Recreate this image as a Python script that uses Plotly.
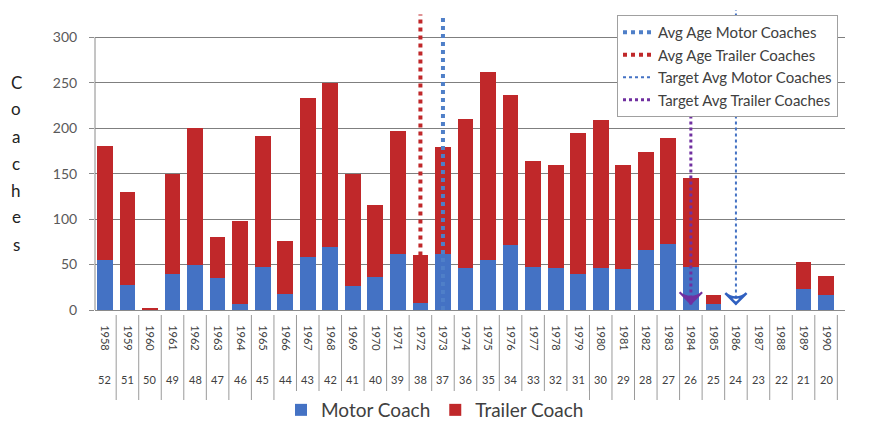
import plotly.graph_objects as go

# Fleet by year of build
years = list(range(1958, 1991))
ages = [2010 - y for y in years]
motor = [55, 27, 0, 40, 49, 35, 7, 47, 18, 58, 69, 26, 36, 62, 8, 62, 46,
         55, 71, 47, 46, 40, 46, 45, 66, 73, 47, 7, 0, 0, 0, 23, 16]
total = [180, 130, 2, 150, 200, 80, 98, 191, 76, 233, 250, 150, 115, 197, 60, 179, 210,
         262, 236, 164, 160, 195, 209, 159, 174, 189, 145, 17, 0, 0, 0, 53, 37]
trailer = [t - m for t, m in zip(total, motor)]

# Average / target ages shown as year-of-build markers
avg_motor_year = 1973
avg_trailer_year = 1972
target_motor_year = 1986
target_trailer_year = 1984
line_top = 325

BLUE = "#4472C4"
RED = "#C0282A"
FONT = "Lato, 'Open Sans', sans-serif"

# plot area geometry (pixels) used for paper-coordinate placement
L, R, TOP, BOT = 95, 845, 10, 310
W, H = R - L, BOT - TOP


def px_y(py):
    return (BOT - py) / H


def px_x(px):
    return (px - L) / W


fig = go.Figure()

fig.add_trace(go.Bar(x=years, y=motor, name="Motor Coach", marker_color=BLUE,
                     marker_line_width=0, legend="legend2"))
fig.add_trace(go.Bar(x=years, y=trailer, name="Trailer Coach", marker_color=RED,
                     marker_line_width=0, legend="legend2"))

tr_idx = years.index(avg_trailer_year)
fig.add_trace(go.Scatter(x=[avg_motor_year, avg_motor_year], y=[0, line_top], mode="lines",
                         line=dict(color="#4F7FC8", width=4, dash="dot"),
                         name="Avg Age Motor Coaches"))
fig.add_trace(go.Scatter(x=[avg_trailer_year, avg_trailer_year], y=[total[tr_idx], line_top],
                         mode="lines", line=dict(color="#C0282A", width=4, dash="dot"),
                         name="Avg Age Trailer Coaches"))
fig.add_trace(go.Scatter(x=[target_motor_year, target_motor_year], y=[6, 332],
                         mode="lines", line=dict(color="#4472C4", width=2, dash="dot"),
                         name="Target Avg Motor Coaches"))
fig.add_trace(go.Scatter(x=[target_trailer_year, target_trailer_year], y=[6, 312],
                         mode="lines", line=dict(color="#7030A0", width=3, dash="dot"),
                         name="Target Avg Trailer Coaches"))
# arrow heads at the foot of the target lines
fig.add_trace(go.Scatter(x=[target_motor_year], y=[7], mode="markers", showlegend=False,
                         marker=dict(symbol="arrow-wide-open", angle=180, size=15,
                                     color="#3060C0", line=dict(width=2.5, color="#3060C0")),
                         cliponaxis=False))
fig.add_trace(go.Scatter(x=[target_trailer_year], y=[7], mode="markers", showlegend=False,
                         marker=dict(symbol="arrow-wide", angle=180, size=16,
                                     color="#7030A0", line=dict(width=2, color="#7030A0")),
                         cliponaxis=False))

# Table-style category axis: separators and age row
shapes = [dict(type="line", xref="paper", yref="y", x0=0, x1=0, y0=0, y1=300,
               line=dict(color="#8a8a8a", width=1))]
for y in years + [years[-1] + 1]:
    shapes.append(dict(type="line", xref="x", yref="paper", x0=y - 0.5, x1=y - 0.5,
                       y0=px_y(315), y1=px_y(400), line=dict(color="#9a9a9a", width=1)))
annotations = []
for y, a in zip(years, ages):
    annotations.append(dict(x=y, y=px_y(388), xref="x", yref="paper", text=str(a),
                            showarrow=False, font=dict(size=11, color="#404040", family=FONT)))

# Vertical axis title, one letter per row
for i, ch in enumerate("Coaches"):
    annotations.append(dict(x=px_x(16), y=px_y(82 + i * 27), xref="paper", yref="paper",
                            text=ch, showarrow=False, xanchor="center", yanchor="middle",
                            font=dict(size=17, color="#222222", family=FONT)))

fig.update_layout(
    width=870, height=424,
    margin=dict(l=L, r=870 - R, t=TOP, b=424 - BOT, autoexpand=False),
    paper_bgcolor="white", plot_bgcolor="white",
    barmode="stack", bargap=0.3,
    font=dict(family=FONT, color="#404040"),
    shapes=shapes, annotations=annotations,
    legend=dict(x=px_x(617), y=px_y(15), xanchor="left", yanchor="top",
                bgcolor="white", bordercolor="#a0a0a0", borderwidth=1,
                font=dict(size=15, color="#404040"), itemwidth=30,
                tracegroupgap=0, traceorder="normal"),
    legend2=dict(orientation="h", x=0.5, xref="container", y=(424 - 410) / 424,
                 yref="container", xanchor="center", yanchor="middle",
                 traceorder="normal", font=dict(size=19, color="#404040"), itemwidth=30),
    xaxis=dict(range=[years[0] - 0.44, years[-1] + 0.84], tickmode="array",
               tickvals=years, ticktext=[str(y) for y in years], tickangle=90,
               tickfont=dict(size=11, color="#404040"), showgrid=False,
               showline=True, linecolor="#8a8a8a", linewidth=1, ticks="",
               ticklabelstandoff=12, zeroline=False, automargin=False),
    yaxis=dict(range=[0, 330], tickvals=[0, 50, 100, 150, 200, 250, 300],
               tickfont=dict(size=14, color="#595959"), showgrid=True,
               gridcolor="#7f7f7f", gridwidth=1, showline=False,
               ticks="outside", ticklen=5, tickcolor="#8a8a8a", zeroline=False,
               ticklabelstandoff=9, automargin=False),
)

fig.write_html("out.html")
